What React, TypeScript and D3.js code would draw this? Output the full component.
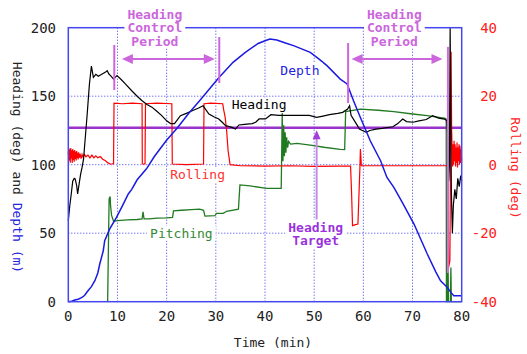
import { useRef, useEffect } from "react";
import * as d3 from "d3";

// axis ticks
const timeTicks = [0, 10, 20, 30, 40, 50, 60, 70, 80];
const leftTicks = [0, 50, 100, 150, 200];
const rightTicks = [-40, -20, 0, 20, 40];
const headingTarget = 127;

// [time (min), depth (m)] - left axis
const depth: [number, number][] = [
  [0, 0], [0.7, 0.3], [1.3, 1.2], [2, 1.8], [2.7, 3], [3.3, 4.5], [4, 8], [4.7, 11],
  [5.4, 15.3], [6, 21], [6.4, 27.5], [7.1, 37], [7.4, 44.5], [8.4, 53], [9.8, 61.5],
  [11, 70], [12.2, 78.6], [12.9, 82], [14, 89], [15.9, 97], [17.5, 106], [19.9, 117.5],
  [22.2, 127], [24.5, 137.5], [26.7, 146.7], [30.6, 163.5], [33.5, 174.7], [36, 182],
  [38.6, 188.5], [40, 190.5], [41, 191.7], [42.4, 191], [44, 189], [45.8, 186.9],
  [49.2, 182], [51, 177], [52.6, 172.3], [55.3, 162.5], [56.7, 158.9], [58, 146.7],
  [59.4, 134.5], [61.4, 117.5], [63.5, 102.9], [64.8, 90.7], [66.2, 83.4], [68, 72],
  [70.3, 56.7], [73, 34.8], [74.7, 22], [75.7, 15.3], [77.1, 10.4], [77.8, 6.8],
  [78.4, 4.4], [80, 4.4],
];

// [time, heading (deg)] - left axis
const heading: [number, number][] = [
  [0, 59], [0.3, 70], [0.6, 78.6], [0.9, 88], [1.2, 90], [1.4, 89.6], [1.7, 84.7],
  [1.9, 78.6], [2.2, 86], [2.5, 93], [2.8, 98], [3.1, 104], [3.4, 117.5], [3.8, 135],
  [4.3, 159], [4.7, 172], [5.1, 163.7], [5.6, 166], [6.1, 164.5], [6.8, 166], [7.5, 167.4],
  [7.9, 168.6], [8.3, 166], [8.6, 165], [9.2, 162.5], [9.9, 165], [10.8, 162], [11.6, 159],
  [12.9, 154], [14, 150], [15, 146.7], [16, 144], [17, 142], [18, 139], [19, 135.8],
  [20, 132], [20.8, 130], [21.6, 130], [22.8, 135.8], [24, 137.5], [25.2, 139.4],
  [26.5, 141.4], [27.4, 143], [28.6, 137], [29.6, 135], [30.6, 133.4], [31.3, 131],
  [32, 128.5], [33.3, 127.2], [34, 126], [34.7, 129], [35.8, 129.5], [37.4, 130],
  [38.1, 131], [38.8, 133.4], [40.1, 133.4], [41.2, 136.5], [42.8, 136], [46.3, 136],
  [49, 136], [50.5, 134.5], [51.8, 135.5], [53.1, 136.5], [54.8, 137.5], [55.8, 138.2],
  [56.8, 140.6], [57.2, 143], [57.5, 136], [58.2, 132], [58.8, 128.5], [59.2, 126],
  [59.8, 125], [60.6, 123.6], [61.3, 125], [62.6, 126], [63.8, 126.5], [66, 127.7],
  [67, 130], [68, 133.3], [68.8, 131.5], [70.1, 131], [71.3, 132], [72.8, 133],
  [74.1, 135.8], [75.3, 134], [76.5, 133.3], [77, 132], [77.2, 118], [77.35, 88],
  [77.5, 100], [77.65, 199.8], [77.9, 80], [78.1, 50], [78.3, 70], [78.6, 82],
  [78.9, 75], [79.2, 90], [79.5, 84], [79.8, 92], [80, 88],
];

// [time, rolling (deg)] - right axis
const rolling: [number, number][] = [
  [0, 3], [0.1, 4.8], [0.2, 1.2], [0.3, 4.5], [0.4, 0.6], [0.5, 4.9], [0.6, 1.8],
  [0.7, 4.2], [0.8, 0.5], [0.9, 4.6], [1, 1.4], [1.1, 4.1], [1.2, 0.9], [1.3, 4.3],
  [1.4, 1.7], [1.5, 3.8], [1.6, 1.2], [1.7, 4], [1.8, 2], [1.9, 3.5], [2, 1.5],
  [2.1, 3.6], [2.2, 2], [2.4, 3.2], [2.6, 1.8], [2.8, 3], [3, 2.2], [3.3, 3],
  [3.6, 2.3], [4, 2.8], [4.4, 2], [4.8, 2.8], [5.2, 2], [5.6, 2.6], [6, 2], [6.5, 2.4],
  [7, 1.6], [7.5, 1.2], [8, 0.6], [8.5, 0.2], [9, 0.2], [9.2, 0.4], [9.3, 18],
  [11, 17.8], [13, 18], [15, 17.8], [15.05, 0.2], [15.6, 0.2], [15.7, 17.8], [18, 18],
  [21.05, 17.8], [21.15, 0.2], [24, 0], [27.5, 0.2], [27.6, 17.8], [29, 18],
  [31.4, 17.8], [31.6, 16], [31.9, 13.8], [32.2, 9.9], [32.5, 4], [32.9, 0],
  [35, -0.3], [40, -0.4], [45, -0.3], [50, -0.5], [55, -0.4], [57.4, -0.4],
  [57.6, -8], [57.8, -17.8], [58.4, -17.5], [58.9, -17.3], [59.2, -5], [59.3, -1],
  [59.4, 4.6], [59.6, -0.3], [65, -0.3], [70, -0.3], [75, -0.3], [77.2, -0.3],
  [77.35, -30], [77.6, -28], [77.85, 33], [77.95, 10], [78.05, 5], [78.15, -0.5],
  [78.25, 6], [78.35, 0], [78.45, 7], [78.55, 1], [78.65, 6], [78.75, -0.5], [78.85, 5],
  [78.95, 0.5], [79.05, 6.5], [79.15, -0.8], [79.25, 5], [79.35, 1], [79.45, 6],
  [79.55, 0], [79.65, 5.5], [79.75, 0.5], [79.85, 4.5], [79.95, 1], [80, 2],
];

// [time, pitching (deg)] - right axis
const pitching: [number, number][] = [
  [8, -40], [8.1, -30], [8.3, -10], [8.5, -9.3], [8.6, -12], [8.8, -14.8], [9.2, -16.5],
  [10, -16.3], [12, -16.1], [14, -16], [15, -15.8], [15.2, -13.8], [15.4, -15.8],
  [16.5, -15.8], [18, -15.6], [20, -15.5], [21.2, -15.4], [21.4, -13.5], [23, -13.3],
  [25, -13.1], [26.7, -13], [27.5, -13.3], [27.8, -15], [29.8, -14.9], [30.1, -14.2],
  [31.5, -14.2], [32.2, -13.6], [34.6, -13], [34.9, -5.9], [37, -6.2], [40.3, -6.9],
  [43.3, -6.9], [43.5, 15.1], [43.65, 1], [43.8, 11.5], [43.95, 2.5], [44.1, 9.5],
  [44.25, 3.5], [44.4, 8], [44.6, 5], [44.8, 6.8], [45.2, 6], [46.5, 6.2], [49.2, 5.7],
  [52, 5.1], [55.3, 4.5], [56.2, 4.4], [56.4, 15.5], [59.4, 16.2], [63, 15.9],
  [66.2, 15.5], [70, 14.8], [73, 14.3], [76.7, 13.5], [76.85, 13.2], [76.9, -40],
  [77.1, -40], [77.2, -24], [77.3, -40], [77.7, -40], [77.8, -30], [77.9, -40], [80, -40],
];

export default function App() {
  const svgRef = useRef<SVGSVGElement>(null);

  useEffect(() => {
    if (!svgRef.current) return;
    const svg = d3.select(svgRef.current);
    svg.selectAll("*").remove();

    const width = 527;
    const height = 354;
    const left = 68.3;
    const right = 461.7;
    const top = 27.7;
    const bottom = 301.7;
    const mono = "'DejaVu Sans Mono', monospace";

    const x = d3.scaleLinear().domain([0, 80]).range([left, right]);
    const yL = d3.scaleLinear().domain([0, 200]).range([bottom, top]);
    const yR = d3.scaleLinear().domain([-40, 40]).range([bottom, top]);

    svg.attr("width", width).attr("height", height);

    // grid (dotted blue)
    svg
      .selectAll(".vgrid")
      .data(timeTicks.slice(1, -1))
      .join("line")
      .attr("x1", (d) => x(d))
      .attr("x2", (d) => x(d))
      .attr("y1", top)
      .attr("y2", bottom)
      .attr("stroke", "#3a3aee")
      .attr("stroke-width", 1)
      .attr("stroke-dasharray", "1,2");

    svg
      .selectAll(".hgrid")
      .data(leftTicks.slice(1, -1))
      .join("line")
      .attr("x1", left)
      .attr("x2", right)
      .attr("y1", (d) => yL(d))
      .attr("y2", (d) => yL(d))
      .attr("stroke", "#3a3aee")
      .attr("stroke-width", 1)
      .attr("stroke-dasharray", "1,2");

    // heading target line
    svg
      .append("line")
      .attr("x1", left)
      .attr("x2", right)
      .attr("y1", yL(headingTarget))
      .attr("y2", yL(headingTarget))
      .attr("stroke", "#9933cc")
      .attr("stroke-width", 2.5);

    const lineL = d3
      .line<[number, number]>()
      .x((d) => x(d[0]))
      .y((d) => yL(d[1]));
    const lineR = d3
      .line<[number, number]>()
      .x((d) => x(d[0]))
      .y((d) => yR(d[1]));

    svg.append("path").datum(pitching).attr("d", lineR).attr("fill", "none")
      .attr("stroke", "#217a21").attr("stroke-width", 1.3);
    svg.append("path").datum(rolling).attr("d", lineR).attr("fill", "none")
      .attr("stroke", "#ff0000").attr("stroke-width", 1.2);
    svg.append("path").datum(heading).attr("d", lineL).attr("fill", "none")
      .attr("stroke", "#000000").attr("stroke-width", 1.2);
    svg.append("path").datum(depth).attr("d", lineL).attr("fill", "none")
      .attr("stroke", "#1a1ae0").attr("stroke-width", 1.5);

    // plot frame
    svg
      .append("rect")
      .attr("x", left)
      .attr("y", top)
      .attr("width", right - left)
      .attr("height", bottom - top)
      .attr("fill", "none")
      .attr("stroke", "#4646f0")
      .attr("stroke-width", 1.5);

    // tick labels
    svg
      .selectAll(".xt")
      .data(timeTicks)
      .join("text")
      .attr("x", (d) => x(d))
      .attr("y", 316)
      .attr("text-anchor", "middle")
      .attr("dominant-baseline", "central")
      .attr("font-family", mono)
      .attr("font-size", 14)
      .attr("fill", "#222")
      .text((d) => d);

    svg
      .selectAll(".yl")
      .data(leftTicks)
      .join("text")
      .attr("x", 56)
      .attr("y", (d) => yL(d))
      .attr("text-anchor", "end")
      .attr("dominant-baseline", "central")
      .attr("font-family", mono)
      .attr("font-size", 14)
      .attr("fill", "#222")
      .text((d) => d);

    svg
      .selectAll(".yr")
      .data(rightTicks)
      .join("text")
      .attr("x", 497)
      .attr("y", (d) => yR(d))
      .attr("text-anchor", "end")
      .attr("dominant-baseline", "central")
      .attr("font-family", mono)
      .attr("font-size", 14)
      .attr("fill", "#ff2020")
      .text((d) => d);

    // axis titles
    svg
      .append("text")
      .attr("x", 273)
      .attr("y", 342)
      .attr("text-anchor", "middle")
      .attr("dominant-baseline", "central")
      .attr("font-family", mono)
      .attr("font-size", 13)
      .attr("fill", "#222")
      .text("Time (min)");

    const lt = svg
      .append("text")
      .attr("transform", "translate(17.5,167.5) rotate(90)")
      .attr("text-anchor", "middle")
      .attr("dominant-baseline", "central")
      .attr("font-family", mono)
      .attr("font-size", 13);
    lt.append("tspan").attr("fill", "#222").text("Heading (deg) and ");
    lt.append("tspan").attr("fill", "#2222e0").text("Depth (m)");

    svg
      .append("text")
      .attr("transform", "translate(515.5,168) rotate(90)")
      .attr("text-anchor", "middle")
      .attr("dominant-baseline", "central")
      .attr("font-family", mono)
      .attr("font-size", 13)
      .attr("fill", "#ff2020")
      .text("Rolling (deg)");

    // labels with white background
    const label = (
      t: number,
      v: number,
      lines: string[],
      color: string,
      bold: boolean
    ) => {
      const g = svg.append("g");
      lines.forEach((s, i) => {
        g.append("text")
          .attr("x", x(t))
          .attr("y", yL(v) + i * 13.5)
          .attr("text-anchor", "middle")
          .attr("dominant-baseline", "central")
          .attr("font-family", mono)
          .attr("font-size", 13)
          .attr("font-weight", bold ? "bold" : "normal")
          .attr("fill", color)
          .text(s);
      });
      const bb = (g.node() as SVGGElement).getBBox();
      g.insert("rect", "text")
        .attr("x", bb.x - 3)
        .attr("y", bb.y)
        .attr("width", bb.width + 6)
        .attr("height", bb.height)
        .attr("fill", "#fff");
    };

    label(38.8, 143.6, ["Heading"], "#000", false);
    label(47.1, 169, ["Depth"], "#2222e0", false);
    label(26.3, 92.5, ["Rolling"], "#ff3030", false);
    label(23, 50, ["Pitching"], "#338833", false);

    // heading control periods
    const violet = "#cc66dd";
    const marker = (t: number, v1: number, v2: number, color: string) =>
      svg.append("line")
        .attr("x1", x(t)).attr("x2", x(t))
        .attr("y1", yL(v1)).attr("y2", yL(v2))
        .attr("stroke", color).attr("stroke-width", 2);

    const dblArrow = (t1: number, t2: number, v: number) => {
      const yy = yL(v);
      const a = x(t1);
      const b = x(t2);
      svg.append("line").attr("x1", a + 6).attr("x2", b - 6)
        .attr("y1", yy).attr("y2", yy)
        .attr("stroke", violet).attr("stroke-width", 2);
      svg.append("path")
        .attr("d", `M${a},${yy}L${a + 11},${yy - 5}L${a + 11},${yy + 5}Z`)
        .attr("fill", violet);
      svg.append("path")
        .attr("d", `M${b},${yy}L${b - 11},${yy - 5}L${b - 11},${yy + 5}Z`)
        .attr("fill", violet);
    };

    marker(9.35, 187.4, 154.5, violet);
    marker(30.7, 193.2, 159.6, violet);
    dblArrow(10.9, 29.8, 177.2);
    marker(56.9, 188.8, 145, violet);
    marker(77.2, 186, 21, "#d070e0");
    dblArrow(57.6, 76.1, 177.2);

    label(17.6, 210, ["Heading", "Control", "Period"], violet, true);
    label(66.3, 210, ["Heading", "Control", "Period"], violet, true);

    // heading target arrow
    const ax = x(50.5);
    const tip = yL(125.2);
    svg.append("line").attr("x1", ax).attr("x2", ax)
      .attr("y1", yL(60)).attr("y2", tip + 6)
      .attr("stroke", "#c58ae6").attr("stroke-width", 2);
    svg.append("path")
      .attr("d", `M${ax},${tip}L${ax - 4},${tip + 9}L${ax + 4},${tip + 9}Z`)
      .attr("fill", "#a040d8");

    label(50.3, 54.2, ["Heading", "Target"], "#9933dd", true);
  }, []);

  return (
    <div style={{ position: "absolute", left: 0, top: 0 }}>
      <svg ref={svgRef} style={{ display: "block", background: "#fff" }} />
    </div>
  );
}
